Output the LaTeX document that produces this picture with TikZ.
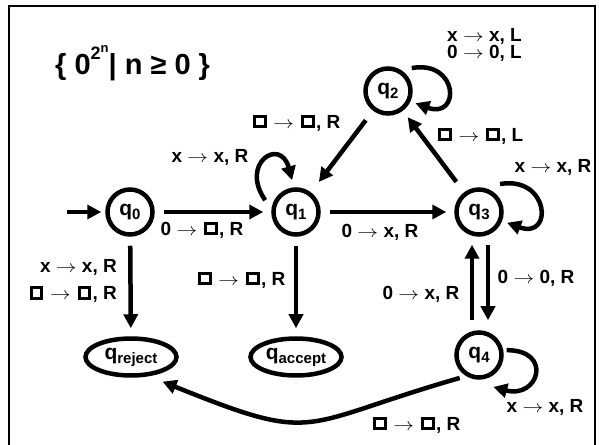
\documentclass[tikz,border=0pt]{standalone}
\usepackage{fontspec}
\setmainfont{Liberation Sans}
\usepackage{graphicx}
\usepackage{tikz}
\usetikzlibrary{shapes,arrows,positioning,calc,arrows.meta}

\newcommand{\ra}{\scalebox{1.2}[1]{$\rightarrow$}}
\newcommand{\blk}{\hspace{1.5pt}\raisebox{3pt}{\fboxsep=0pt\fboxrule=3pt\fbox{\rule{0pt}{7.5pt}\hspace{7.5pt}}}\hspace{1.5pt}}
\newcommand{\qs}[1]{\raisebox{-4pt}{\fontsize{15}{15}\selectfont #1}}

\begin{document}
\begin{tikzpicture}[x=1pt, y=1pt,
    every node/.style={font=\fontsize{19}{21}\selectfont\bfseries},
    qstate/.style={draw, circle, line width=4.5pt, minimum size=45pt, inner sep=0pt, font=\fontsize{21}{21}\selectfont\bfseries},
    qhalt/.style={draw, ellipse, line width=4.5pt, minimum width=91pt, minimum height=37pt, inner sep=0pt, font=\fontsize{21}{21}\selectfont\bfseries},
    trans/.style={-{Triangle[length=14pt,width=14pt]}, line width=4.5pt, shorten <=9pt, shorten >=8pt},
    curvy/.style={trans, shorten <=0pt, shorten >=0pt},
    lbl/.style={inner sep=0pt}]
    \useasboundingbox (0,0) rectangle (599,444);
    \draw[line width=2pt] (8.5,-3) -- (8.5,438) -- (595,438) -- (595,-3);

    \node[lbl, anchor=base west] (title) at (55,369) {\fontsize{29}{31}\selectfont \{ 0\raisebox{15pt}{\fontsize{18}{18}\selectfont 2\raisebox{7pt}{\fontsize{13}{13}\selectfont n}}| n ≥ 0 \}};

    % states
    \node[qstate] (q0) at (130,232) {q\qs{0}};
    \node[qstate] (q1) at (296,232) {q\qs{1}};
    \node[qstate] (q2) at (388,353) {q\qs{2}};
    \node[qstate] (q3) at (479,232) {q\qs{3}};
    \node[qstate] (q4) at (479,89) {q\qs{4}};
    \node[qhalt] (qrej) at (131,87) {q\qs{reject}};
    \node[qhalt] (qacc) at (296,87) {q\qs{accept}};
    \coordinate (init) at (67,232);

    % transitions
    \draw[trans, shorten <=0pt, shorten >=4pt] (init) -- (q0);
    \draw[trans] (q0) -- (q1);
    \draw[trans] (q1) -- (q3);
    \draw[trans] (q0) -- (qrej);
    \draw[trans] (q1) -- (qacc);
    \draw[trans, shorten <=12pt, shorten >=13pt] (q2) -- (q1);
    \draw[trans, shorten <=13pt, shorten >=8pt] (q3) -- (q2);
    \draw[trans, shorten <=8pt, shorten >=10pt] ([xshift=9pt]q3.south) -- ([xshift=9pt]q4.north);
    \draw[trans, shorten <=10pt, shorten >=8pt] ([xshift=-7pt]q4.north) -- ([xshift=-7pt]q3.south);

    % loops
    \draw[curvy] ($(q1)+(159:33)$) to[out=125, in=105, distance=45pt] ($(q1)+(97:32)$);
    \draw[curvy] ($(q2)+(44:33)$) to[out=10, in=-20, distance=48pt] ($(q2)+(-24:30)$);
    \draw[curvy] ($(q3)+(53:35)$) to[out=10, in=-20, distance=50pt] ($(q3)+(-21:30)$);
    \draw[curvy] ($(q4)+(10:28)$) to[out=0, in=-15, distance=47pt] ($(q4)+(-66:35)$);
    \draw[curvy] ($(q4)+(230:30)$) to[out=196, in=-22, distance=170pt] ($(qrej)+(-38:40)$);

    % labels
    \node[lbl] (l01) at (202,214) {0 \ra{} \blk, R};
    \node[lbl] (l13) at (380,212) {0 \ra{} x, R};
    \node[lbl, anchor=east, align=right] (l0r) at (117,163) {x \ra{} x, R\\[6pt]\blk{} \ra{} \blk, R};
    \node[lbl] (l1a) at (241,164) {\blk{} \ra{} \blk, R};
    \node[lbl] (l21) at (296,321) {\blk{} \ra{} \blk, R};
    \node[lbl] (l32) at (480,308) {\blk{} \ra{} \blk, L};
    \node[lbl, anchor=west, align=left] (l22) at (447,399) {x \ra{} x, L\\[-3.5pt]0 \ra{} 0, L};
    \node[lbl] (l11) at (210,287) {x \ra{} x, R};
    \node[lbl] (l33) at (553,277) {x \ra{} x, R};
    \node[lbl] (l34) at (536,166) {0 \ra{} 0, R};
    \node[lbl] (l43) at (421,150) {0 \ra{} x, R};
    \node[lbl] (l44) at (545,37) {x \ra{} x, R};
    \node[lbl] (l4r) at (416,19) {\blk{} \ra{} \blk, R};
\end{tikzpicture}
\end{document}
